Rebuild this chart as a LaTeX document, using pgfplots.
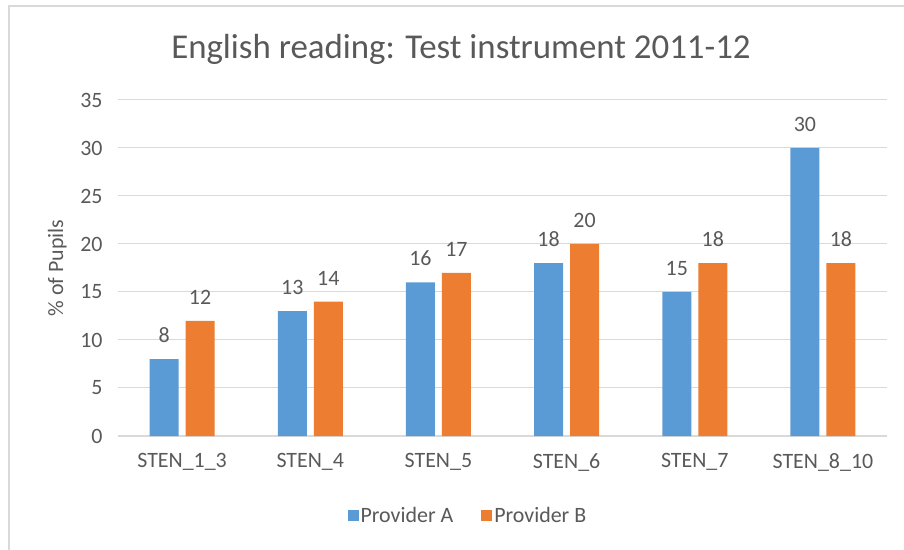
\documentclass[border=0pt]{standalone}
\usepackage{fontspec}
\setmainfont{Carlito}
\usepackage{pgfplots}
\pgfplotsset{compat=1.18}
\definecolor{barA}{HTML}{5B9BD5}
\definecolor{barB}{HTML}{ED7D31}
\definecolor{txt}{HTML}{595959}
\definecolor{gridc}{HTML}{D9D9D9}
\begin{document}
\begin{tikzpicture}
\useasboundingbox (0,0) rectangle (904bp,550bp);
\draw[gridc, line width=1.2bp] (9bp,0) -- (9bp,544bp) -- (904bp,544bp);
\node[text=txt, font=\fontsize{35}{40}\selectfont] at (461bp,501bp) {English reading: Test instrument 2011-12};
\begin{axis}[
  at={(118bp,114bp)}, anchor=south west,
  scale only axis, width=769bp, height=336bp,
  ymin=0, ymax=35, xmin=-0.5, xmax=5.5,
  ytick={0,5,...,35},
  xtick={0,...,5},
  xticklabels={STEN\_1\_3,STEN\_4,STEN\_5,STEN\_6,STEN\_7,STEN\_8\_10},
  major tick length=0pt,
  axis line style={draw=none},
  axis x line*=bottom, axis y line*=left,
  ymajorgrids, grid style={gridc, line width=1bp},
  tick label style={text=txt, font=\fontsize{22}{26}\selectfont},
  /pgf/number format/assume math mode=true,
  yticklabel style={xshift=-12bp},
  xticklabel style={yshift=-14bp},
  ylabel={\% of Pupils},
  ylabel style={text=txt, font=\fontsize{22}{26}\selectfont, at={(rel axis cs:-0.079,0.5)}, anchor=center},
  ybar, bar width=29bp,
  nodes near coords,
  nodes near coords style={text=txt, font=\fontsize{22}{26}\selectfont, yshift=13bp},
  legend style={at={(0.455,-0.238)}, anchor=center, draw=none, legend columns=2,
     font=\fontsize{22}{26}\selectfont, text=txt,
     /tikz/every even column/.append style={column sep=26bp}},
  legend image code/.code={\fill[#1] (0bp,-5.5bp) rectangle (11bp,5.5bp);},
  clip=false,
]
\draw[gridc, line width=1.5bp] (axis cs:-0.5,0) -- (axis cs:5.5,0);
\addplot[fill=barA, draw=none, bar shift=-18bp] coordinates {(0,8) (1,13) (2,16) (3,18) (4,15) (5,30)};
\addplot[fill=barB, draw=none, bar shift=18bp] coordinates {(0,12) (1,14) (2,17) (3,20) (4,18) (5,18)};
\legend{Provider A, Provider B}
\end{axis}
\end{tikzpicture}
\end{document}
